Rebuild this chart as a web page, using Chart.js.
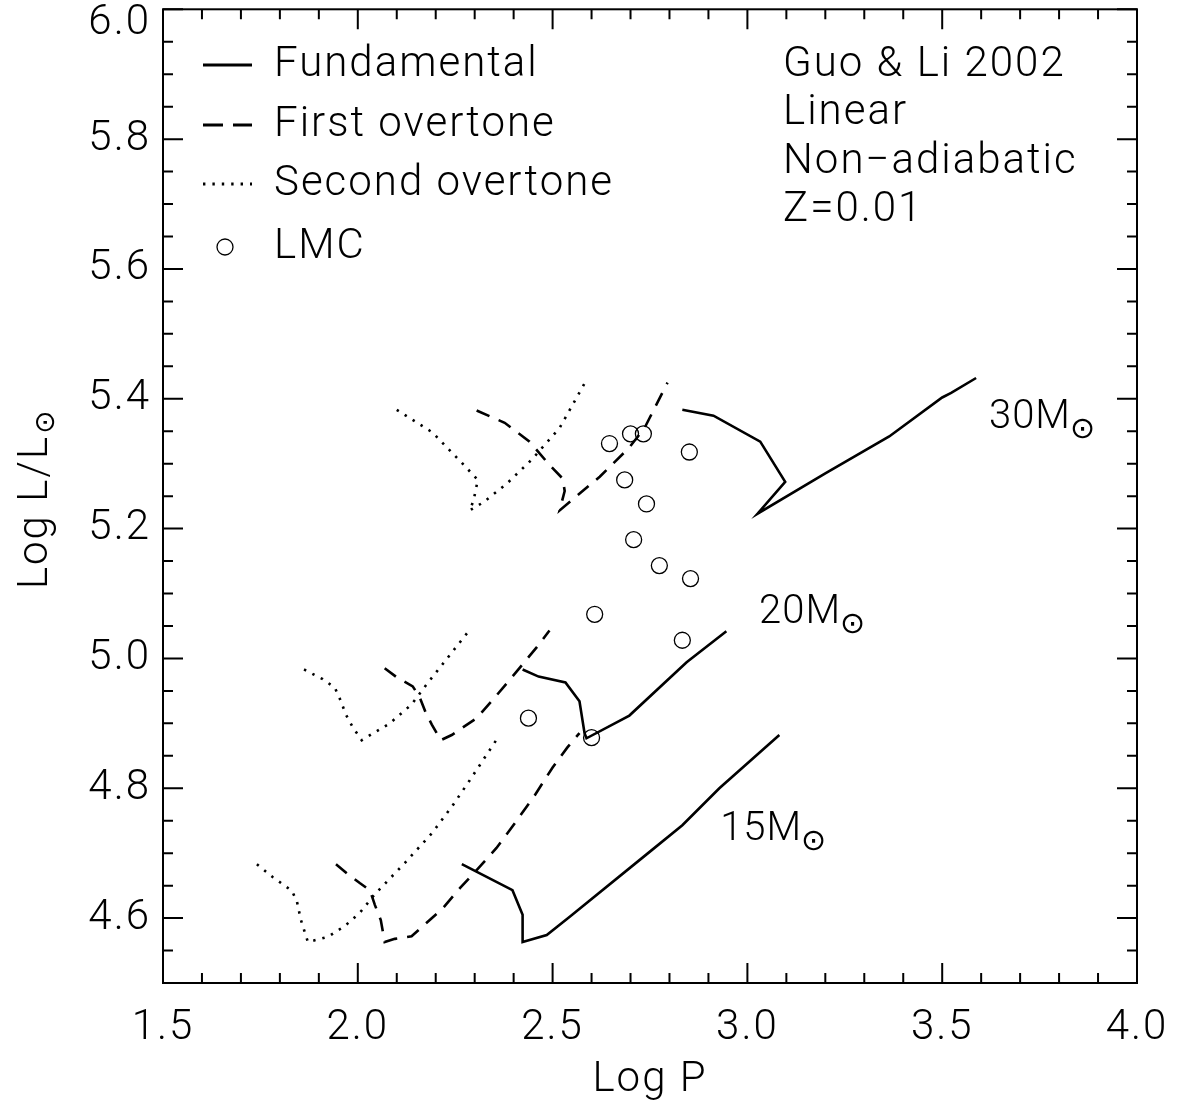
<!DOCTYPE html>
<html>
<head>
<meta charset="utf-8">
<script src="https://cdn.jsdelivr.net/npm/chart.js@4/dist/chart.umd.min.js"></script>
<style>
    body { margin: 0; background: #fff; }
    #wrap { width: 1177px; height: 1114px; }
</style>
</head>
<body>
<div id="wrap"><canvas id="plModel" width="1177" height="1114"></canvas></div>
<script>
// tick labels
const xMajor = [1.5, 2.0, 2.5, 3.0, 3.5, 4.0];
const yMajor = [4.6, 4.8, 5.0, 5.2, 5.4, 5.6, 5.8, 6.0];

// LMC stars
const lmcLogP = [2.646, 2.700, 2.733, 2.851, 2.685, 2.741, 2.708, 2.774, 2.854, 2.608, 2.833, 2.438, 2.600];
const lmcLogL = [5.331, 5.346, 5.346, 5.318, 5.275, 5.238, 5.183, 5.143, 5.123, 5.068, 5.028, 4.908, 4.878];

// 30 Msun
const fund30P = [2.833, 2.913, 3.033, 3.097, 3.026, 3.200, 3.364, 3.500, 3.523, 3.587];
const fund30L = [5.383, 5.374, 5.334, 5.272, 5.223, 5.285, 5.342, 5.402, 5.409, 5.432];
const first30P = [2.305, 2.377, 2.441, 2.492, 2.526, 2.531, 2.518, 2.621, 2.697, 2.736, 2.795];
const first30L = [5.382, 5.363, 5.334, 5.298, 5.277, 5.258, 5.228, 5.280, 5.325, 5.355, 5.425];
const second30P = [2.100, 2.192, 2.269, 2.308, 2.297, 2.287, 2.321, 2.382, 2.446, 2.518, 2.587];
const second30L = [5.383, 5.348, 5.300, 5.275, 5.243, 5.228, 5.240, 5.269, 5.306, 5.355, 5.429];

// 20 Msun
const fund20P = [2.423, 2.464, 2.533, 2.569, 2.582, 2.587, 2.697, 2.844, 2.946];
const fund20L = [4.983, 4.972, 4.963, 4.934, 4.885, 4.877, 4.912, 4.994, 5.042];
const first20P = [2.069, 2.100, 2.141, 2.159, 2.174, 2.190, 2.213, 2.241, 2.305, 2.356, 2.408, 2.459, 2.492];
const first20L = [4.985, 4.971, 4.957, 4.940, 4.917, 4.898, 4.874, 4.882, 4.908, 4.943, 4.980, 5.017, 5.043];
const second20P = [1.862, 1.910, 1.941, 1.956, 1.969, 1.987, 2.010, 2.082, 2.138, 2.174, 2.236, 2.282];
const second20L = [4.983, 4.968, 4.955, 4.935, 4.914, 4.894, 4.874, 4.900, 4.929, 4.958, 5.005, 5.040];

// 15 Msun
const fund15P = [2.267, 2.397, 2.423, 2.423, 2.485, 2.544, 2.749, 2.833, 2.928, 3.082];
const fund15L = [4.683, 4.643, 4.605, 4.563, 4.574, 4.602, 4.702, 4.743, 4.800, 4.882];
const first15P = [1.944, 1.972, 2.005, 2.031, 2.044, 2.059, 2.069, 2.095, 2.138, 2.164, 2.218, 2.262, 2.305, 2.356, 2.403, 2.454, 2.500, 2.538, 2.569];
const first15L = [4.683, 4.669, 4.654, 4.643, 4.620, 4.597, 4.563, 4.568, 4.572, 4.586, 4.615, 4.646, 4.674, 4.708, 4.746, 4.789, 4.832, 4.863, 4.885];
const second15P = [1.741, 1.782, 1.831, 1.844, 1.854, 1.864, 1.872, 1.923, 1.967, 2.005, 2.044, 2.121, 2.192, 2.244, 2.287, 2.364];
const second15L = [4.683, 4.663, 4.642, 4.625, 4.597, 4.578, 4.563, 4.571, 4.588, 4.608, 4.637, 4.685, 4.732, 4.774, 4.812, 4.882];

const FONT = 'Roboto, "DejaVu Sans", sans-serif';
const FW = 300;
const SPACING = '2px';
const SOLID = [];
const DASH = [14, 10];
const DOT = [2.4, 7];

function pts(px, py) {
    return px.map((v, i) => ({ x: v, y: py[i] }));
}

function track(px, py, dash) {
    return {
        data: pts(px, py),
        showLine: true,
        borderColor: '#000',
        borderWidth: 2.6,
        borderDash: dash,
        pointRadius: 0,
        fill: false,
        tension: 0
    };
}

const datasets = [
    track(fund30P, fund30L, SOLID), track(first30P, first30L, DASH), track(second30P, second30L, DOT),
    track(fund20P, fund20L, SOLID), track(first20P, first20L, DASH), track(second20P, second20L, DOT),
    track(fund15P, fund15L, SOLID), track(first15P, first15L, DASH), track(second15P, second15L, DOT),
    {
        data: pts(lmcLogP, lmcLogL),
        showLine: false,
        pointStyle: 'circle',
        pointRadius: 8,
        borderColor: '#000',
        borderWidth: 1.3,
        backgroundColor: 'rgba(0,0,0,0)'
    }
];

// M with subscript sun symbol
function massLabel(ctx, text, x, y) {
    ctx.font = FW + ' 40px ' + FONT;
    ctx.textAlign = 'left';
    ctx.textBaseline = 'middle';
    ctx.letterSpacing = '1px';
    ctx.fillText(text, x, y);
    const w = ctx.measureText(text).width;
    ctx.font = '30px "DejaVu Sans"';
    ctx.fillText('\u2299', w + x - 1, y + 12);
    ctx.letterSpacing = SPACING;
}

const framePlugin = {
    id: 'framePlugin',
    beforeDraw(chart) {
        chart.ctx.letterSpacing = SPACING;
    },
    afterDraw(chart) {
        const { ctx, chartArea: a, scales: { x, y } } = chart;
        ctx.save();
        ctx.strokeStyle = '#000';
        ctx.fillStyle = '#000';
        ctx.lineWidth = 2;
        ctx.setLineDash([]);
        ctx.strokeRect(a.left, a.top, a.right - a.left, a.bottom - a.top);

        // inward ticks on all four sides
        ctx.beginPath();
        for (let i = 15; i <= 40; i++) {
            const px = x.getPixelForValue(i / 10);
            const len = i % 5 === 0 ? 20 : 10;
            ctx.moveTo(px, a.bottom); ctx.lineTo(px, a.bottom - len);
            ctx.moveTo(px, a.top); ctx.lineTo(px, a.top + len);
        }
        for (let i = 90; i <= 120; i++) {
            const py = y.getPixelForValue(i / 20);
            const len = i % 4 === 0 ? 20 : 10;
            ctx.moveTo(a.left, py); ctx.lineTo(a.left + len, py);
            ctx.moveTo(a.right, py); ctx.lineTo(a.right - len, py);
        }
        ctx.stroke();

        ctx.font = FW + ' 42px ' + FONT;
        ctx.textBaseline = 'middle';

        // top y label sits just under the frame
        ctx.textAlign = 'right';
        ctx.fillText(yMajor[yMajor.length - 1].toFixed(1), a.left - 12, a.top + 14);

        // axis titles
        ctx.textAlign = 'center';
        ctx.fillText('Log P', (a.left + a.right) / 2, 1080);

        ctx.save();
        ctx.translate(36, 502);
        ctx.rotate(-Math.PI / 2);
        ctx.textAlign = 'left';
        const t = 'Log L/L';
        const tw = ctx.measureText(t).width;
        ctx.fillText(t, -tw / 2 - 10, 0);
        ctx.font = '28px "DejaVu Sans"';
        ctx.fillText('\u2299', tw / 2 - 9, 11);
        ctx.restore();

        // legend
        ctx.font = FW + ' 42px ' + FONT;
        ctx.textAlign = 'left';
        ctx.lineWidth = 2.8;
        const rows = [
            ['Fundamental', SOLID, 65],
            ['First overtone', DASH, 125],
            ['Second overtone', DOT, 184]
        ];
        rows.forEach(([label, dash, yy]) => {
            ctx.setLineDash(dash === DASH ? [20, 10] : dash);
            ctx.beginPath();
            ctx.moveTo(203, yy); ctx.lineTo(252, yy);
            ctx.stroke();
            ctx.setLineDash([]);
            ctx.fillText(label, 274, yy);
        });
        ctx.lineWidth = 1.3;
        ctx.beginPath();
        ctx.arc(225, 247, 8, 0, Math.PI * 2);
        ctx.stroke();
        ctx.fillText('LMC', 274, 247);

        // model info
        ['Guo & Li 2002', 'Linear', 'Non\u2212adiabatic', 'Z=0.01'].forEach((s, i) => {
            ctx.fillText(s, 783, 65 + i * 48.5);
        });

        // mass labels
        massLabel(ctx, '30M', x.getPixelForValue(3.62), y.getPixelForValue(5.370));
        massLabel(ctx, '20M', x.getPixelForValue(3.03), y.getPixelForValue(5.070));
        massLabel(ctx, '15M', x.getPixelForValue(2.93), y.getPixelForValue(4.736));
        ctx.restore();
    }
};

new Chart(document.getElementById('plModel'), {
    type: 'scatter',
    data: { datasets: datasets },
    options: {
        responsive: false,
        animation: false,
        layout: { padding: { top: 6, right: 40, left: 0, bottom: 0 } },
        plugins: {
            legend: { display: false },
            tooltip: { enabled: false }
        },
        scales: {
            x: {
                type: 'linear',
                min: 1.5,
                max: 4.0,
                grid: { display: false, drawTicks: false },
                border: { display: false },
                afterBuildTicks: s => { s.ticks = xMajor.map(v => ({ value: v })); },
                afterFit: s => {
                    s.height = 131;
                    s.paddingLeft = 0; s.paddingRight = 0;
                },
                ticks: {
                    padding: 20,
                    color: '#000',
                    font: { family: FONT, size: 42, weight: FW },
                    maxRotation: 0,
                    autoSkip: false,
                    callback: v => v.toFixed(1)
                }
            },
            y: {
                type: 'linear',
                min: 4.5,
                max: 6.0,
                grid: { display: false, drawTicks: false },
                border: { display: false },
                afterBuildTicks: s => { s.ticks = yMajor.map(v => ({ value: v })); },
                afterFit: s => {
                    s.width = 163;
                    s.paddingTop = 0; s.paddingBottom = 0;
                },
                ticks: {
                    padding: 12,
                    color: '#000',
                    font: { family: FONT, size: 42, weight: FW },
                    autoSkip: false,
                    // 6.0 is drawn by the plugin, just under the top frame
                    callback: v => (v === yMajor[yMajor.length - 1] ? '' : v.toFixed(1))
                }
            }
        }
    },
    plugins: [framePlugin]
});
</script>
</body>
</html>
